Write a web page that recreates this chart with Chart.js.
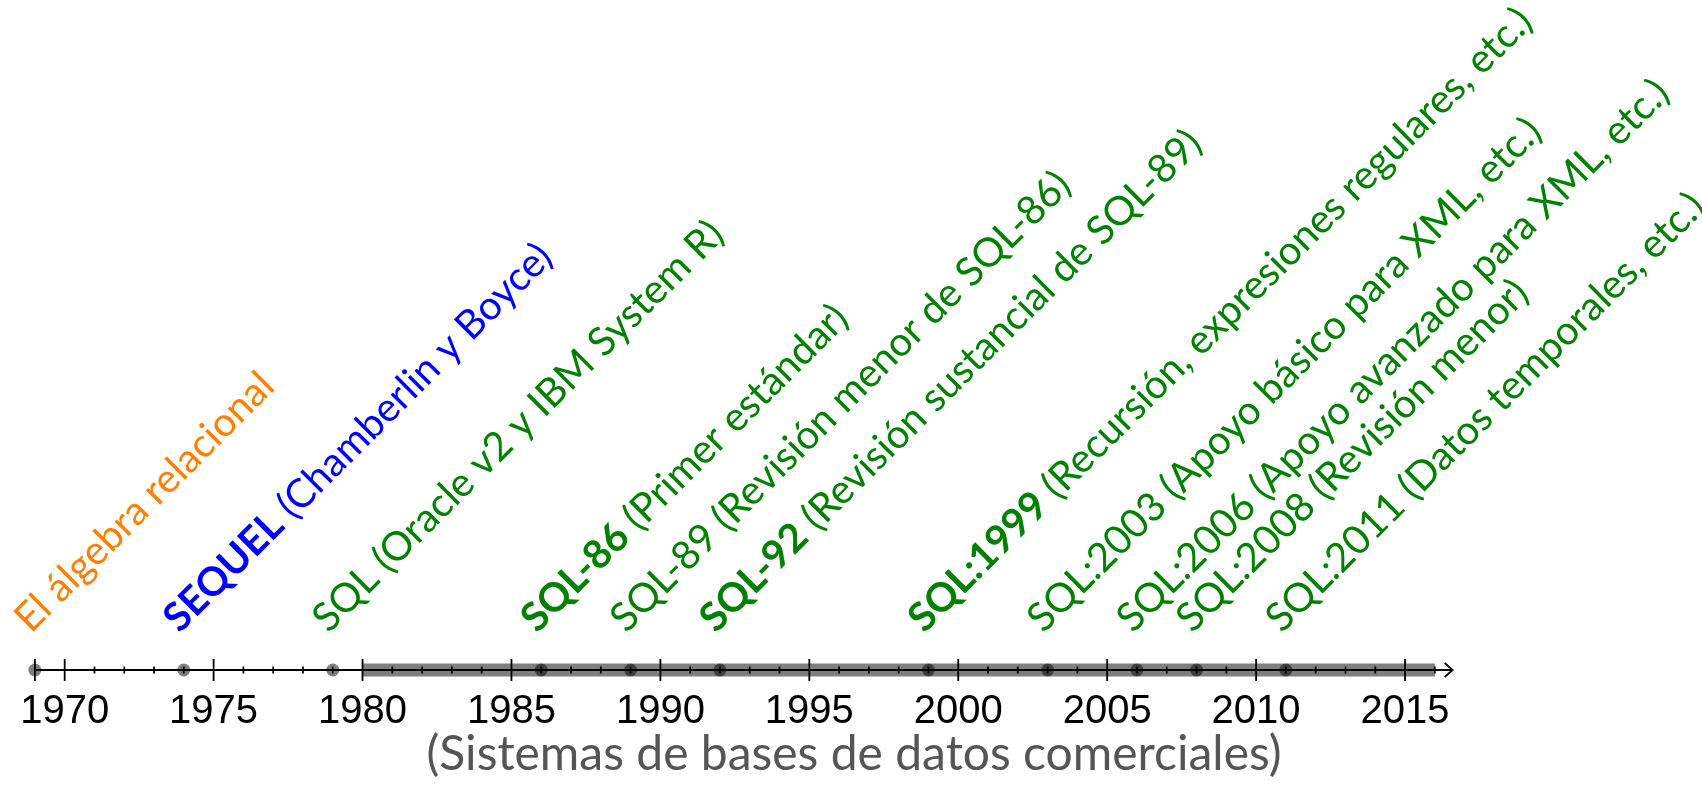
<!DOCTYPE html>
<html><head><meta charset="utf-8">
<script src="https://cdn.jsdelivr.net/npm/chart.js@4.4.1/dist/chart.umd.min.js"></script>
<style>html,body{margin:0;padding:0;background:#fff;}#wrap{width:1702px;height:787px;position:relative;}</style>
</head><body><div id="wrap"><canvas id="c"></canvas></div>
<script>
// ---- data ----
const eventYears = [1969, 1974, 1979, 1986, 1989, 1992, 1999, 2003, 2006, 2008, 2011];
const eventBold  = ['', 'SEQUEL', '', 'SQL-86', '', 'SQL-92', 'SQL:1999', '', '', '', ''];
const eventText  = [
  'El álgebra relacional',
  ' (Chamberlin y Boyce)',
  'SQL (Oracle v2 y IBM System R)',
  ' (Primer estándar)',
  'SQL-89 (Revisión menor de SQL-86)',
  ' (Revisión sustancial de SQL-89)',
  ' (Recursión, expresiones regulares, etc.)',
  'SQL:2003 (Apoyo básico para XML, etc.)',
  'SQL:2006 (Apoyo avanzado para XML, etc.)',
  'SQL:2008 (Revisión menor)',
  'SQL:2011 (Datos temporales, etc.)'
];
const eventKind  = ['teoria', 'prototipo', 'sql', 'sql', 'sql', 'sql', 'sql', 'sql', 'sql', 'sql', 'sql'];
const commercialPeriod = [1980, 2016];
const axisRange = [1969, 2016.6];
const tickYears = [1970, 1975, 1980, 1985, 1990, 1995, 2000, 2005, 2010, 2015];
const axisTitle = '(Sistemas de bases de datos comerciales)';

// ---- styles ----
const kindColors = { teoria: '#ff8000', prototipo: '#0000ff', sql: '#008000' };
const LABEL_FONT = 'Lato, "Liberation Sans", sans-serif';
const TICK_FONT = '"Liberation Sans", Arial, sans-serif';
const LABEL_SIZE = 40;

const timelinePlugin = {
  id: 'timeline',
  afterDatasetsDraw(chart) {
    const ctx = chart.ctx, xs = chart.scales.x, ys = chart.scales.y;
    const y0 = ys.getPixelForValue(0);
    const xa = xs.getPixelForValue(axisRange[0]);
    const xb = xs.getPixelForValue(axisRange[1]);
    ctx.save();
    ctx.strokeStyle = '#000';
    ctx.lineWidth = 1.8;
    ctx.beginPath();
    ctx.moveTo(xa, y0); ctx.lineTo(xb, y0);
    ctx.moveTo(xb - 8, y0 - 7); ctx.lineTo(xb, y0); ctx.lineTo(xb - 8, y0 + 7);
    ctx.moveTo(xa, y0 - 11); ctx.lineTo(xa, y0 + 11);
    ctx.stroke();
    const major = new Set(tickYears);
    ctx.beginPath();
    for (let yr = Math.ceil(axisRange[0] + 0.5); yr <= Math.floor(axisRange[1]); yr++) {
      const px = xs.getPixelForValue(yr);
      const h = major.has(yr) ? 11 : 3.5;
      ctx.moveTo(px, y0 - h); ctx.lineTo(px, y0 + h);
    }
    ctx.stroke();
    ctx.restore();
  },
  afterDraw(chart) {
    const ctx = chart.ctx, xs = chart.scales.x, ys = chart.scales.y;
    const y0 = ys.getPixelForValue(0);
    ctx.save();
    ctx.textBaseline = 'alphabetic';
    ctx.textAlign = 'left';
    eventYears.forEach((yr, i) => {
      const px = xs.getPixelForValue(yr) - 4;
      const py = y0 - 36;
      ctx.save();
      ctx.translate(px, py);
      ctx.rotate(-Math.PI / 4);
      ctx.fillStyle = kindColors[eventKind[i]];
      let off = 0;
      if (eventBold[i]) {
        ctx.font = 'bold ' + LABEL_SIZE + 'px ' + LABEL_FONT;
        ctx.fillText(eventBold[i], 0, 0);
        off = ctx.measureText(eventBold[i]).width;
      }
      ctx.font = LABEL_SIZE + 'px ' + LABEL_FONT;
      ctx.fillText(eventText[i], off, 0);
      ctx.restore();
    });
    ctx.restore();
  }
};

new Chart(document.getElementById('c'), {
  data: {
    datasets: [
      {
        type: 'line',
        data: commercialPeriod.map(v => ({ x: v, y: 0 })),
        borderColor: 'rgba(0,0,0,0.5)',
        borderWidth: 13,
        borderCapStyle: 'butt',
        pointRadius: 0,
        clip: false,
        order: 2
      },
      {
        type: 'scatter',
        data: eventYears.map(v => ({ x: v, y: 0 })),
        backgroundColor: 'rgba(0,0,0,0.5)',
        borderWidth: 0,
        pointRadius: 6.5,
        clip: false,
        order: 1
      }
    ]
  },
  options: {
    responsive: true,
    maintainAspectRatio: false,
    animation: false,
    layout: { padding: { left: 20, right: 14, top: 10, bottom: 8 } },
    plugins: { legend: { display: false }, tooltip: { enabled: false }, title: { display: false } },
    scales: {
      x: {
        type: 'linear',
        min: 1968.5,
        max: 2024.5,
        grid: { display: false },
        border: { display: false },
        afterBuildTicks(scale) { scale.ticks = tickYears.map(v => ({ value: v })); },
        ticks: {
          autoSkip: false,
          maxRotation: 0,
          minRotation: 0,
          padding: 14,
          color: '#000',
          font: { family: TICK_FONT, size: 40, lineHeight: 1 },
          callback: v => String(v)
        },
        title: {
          display: true,
          text: axisTitle,
          color: '#555',
          font: { family: LABEL_FONT, size: 48, lineHeight: 1 },
          padding: { top: -15, bottom: 0 }
        }
      },
      y: { display: false, min: 0, max: 1 }
    }
  },
  plugins: [timelinePlugin]
});
</script>
</body></html>
